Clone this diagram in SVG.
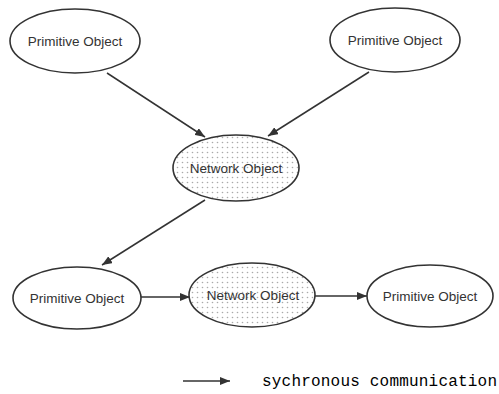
<svg xmlns="http://www.w3.org/2000/svg" width="499" height="394" viewBox="0 0 499 394">
<style>
.node{stroke:#333;stroke-width:1.6;fill:#fff}
.net{fill:url(#dots)}
.lbl{font-family:"Liberation Sans",Arial,sans-serif;font-size:13.5px;fill:#333;text-anchor:middle}
.edge{stroke:#333;stroke-width:1.5;fill:none;marker-end:url(#arr)}
.legend{font-family:"Liberation Mono","Courier New",monospace;font-size:16px;fill:#000}
</style>
<defs>
<pattern id="dots" width="5" height="5" patternUnits="userSpaceOnUse">
<rect width="5" height="5" fill="#fff"/>
<circle cx="2.5" cy="2.5" r="0.8" fill="#aaa"/>
</pattern>
<marker id="arr" viewBox="0 0 10 8" refX="10" refY="4" markerWidth="10" markerHeight="8" markerUnits="userSpaceOnUse" orient="auto">
<path d="M0,0 L10,4 L0,8 z" fill="#333"/>
</marker>
</defs>
<g id="connectors">
<line class="edge" x1="107" y1="73" x2="205" y2="137"/>
<line class="edge" x1="369" y1="72" x2="268" y2="136"/>
<line class="edge" x1="205" y1="200" x2="102" y2="265"/>
<line class="edge" x1="141" y1="297" x2="190" y2="297"/>
<line class="edge" x1="315" y1="296" x2="367" y2="296"/>
</g>
<g id="n1"><ellipse class="node" cx="75" cy="41" rx="65" ry="32"/><text class="lbl" x="75" y="46">Primitive Object</text></g>
<g id="n2"><ellipse class="node" cx="395" cy="40" rx="65" ry="32"/><text class="lbl" x="395" y="45">Primitive Object</text></g>
<g id="n3"><ellipse class="node net" cx="236" cy="168" rx="63" ry="33"/><text class="lbl" x="236" y="173">Network Object</text></g>
<g id="n4"><ellipse class="node" cx="77" cy="298" rx="64" ry="31"/><text class="lbl" x="77" y="303">Primitive Object</text></g>
<g id="n5"><ellipse class="node net" cx="252" cy="295" rx="63" ry="32"/><text class="lbl" x="253" y="300">Network Object</text></g>
<g id="n6"><ellipse class="node" cx="430" cy="296" rx="63" ry="31"/><text class="lbl" x="430" y="301">Primitive Object</text></g>
<g id="legend">
<line class="edge" x1="183" y1="381" x2="230" y2="381"/>
<text class="legend" x="262" y="386" textLength="235">sychronous communication</text>
</g>
</svg>
